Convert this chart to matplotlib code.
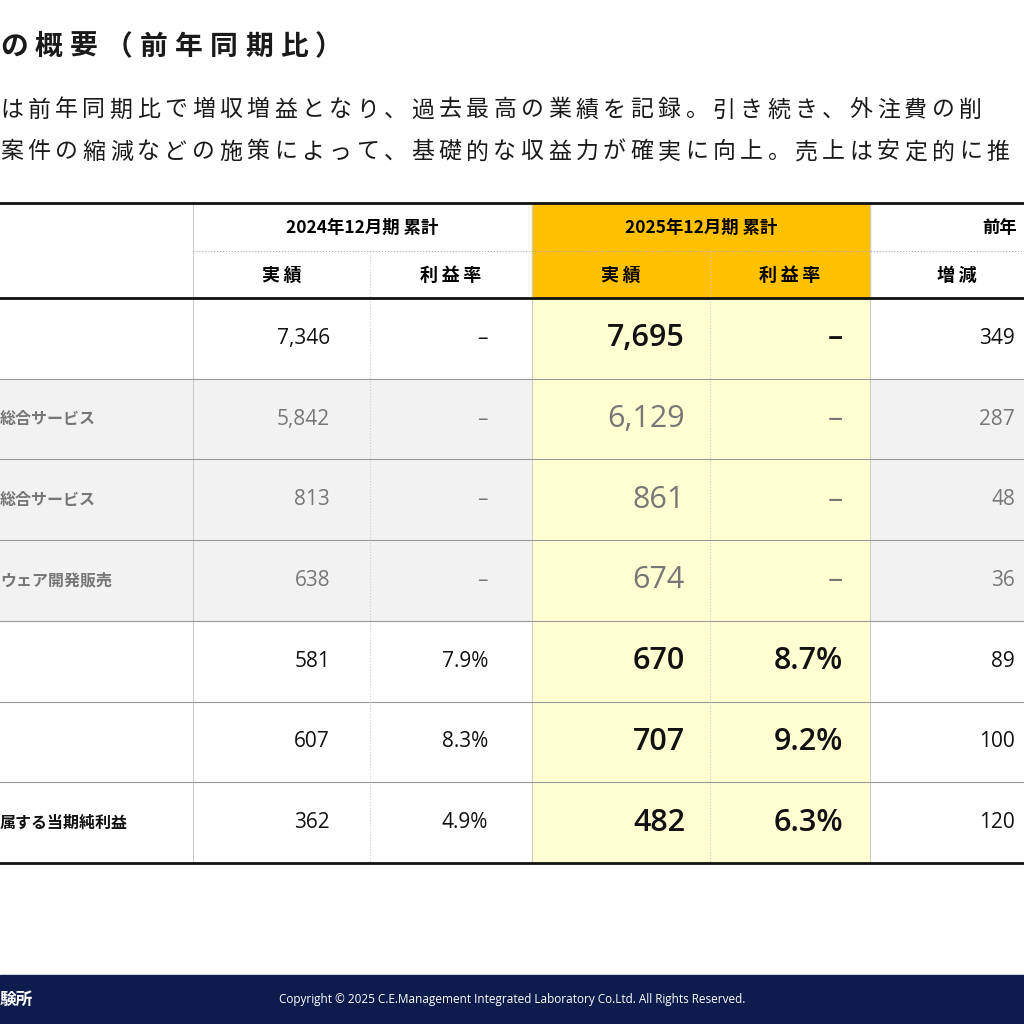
import matplotlib
matplotlib.use("Agg")
import matplotlib.pyplot as plt
from matplotlib.patches import Rectangle

plt.rcParams["font.family"] = ["Noto Sans CJK JP", "DejaVu Sans"]
NUM_FONT = ["Open Sans", "DejaVu Sans"]

# --- data -----------------------------------------------------------------
title = "の概要（前年同期比）"
lead_lines = [
    "は前年同期比で増収増益となり、過去最高の業績を記録。引き続き、外注費の削",
    "案件の縮減などの施策によって、基礎的な収益力が確実に向上。売上は安定的に推",
]
row_labels = ["", "総合サービス", "総合サービス", "ウェア開発販売", "", "", "属する当期純利益"]
segment_rows = [1, 2, 3]
prev_actual = ["7,346", "5,842", "813", "638", "581", "607", "362"]
prev_margin = ["–", "–", "–", "–", "7.9%", "8.3%", "4.9%"]
cur_actual = ["7,695", "6,129", "861", "674", "670", "707", "482"]
cur_margin = ["–", "–", "–", "–", "8.7%", "9.2%", "6.3%"]
diff = ["349", "287", "48", "36", "89", "100", "120"]
group_headers = ["2024年12月期 累計", "2025年12月期 累計", "前年"]
sub_headers = ["実績", "利益率", "実績", "利益率", "増減"]
footer_left = "験所"
copyright_text = "Copyright © 2025 C.E.Management Integrated Laboratory Co.Ltd. All Rights Reserved."

# --- layout (pixel space) -------------------------------------------------
col_x = [193, 370, 532, 710, 870, 1024]
row_top = 298
row_h = 80.7
table_top = 203
hdr_mid = 251

fig = plt.figure(figsize=(10.24, 10.24), dpi=100)
ax = fig.add_axes([0, 0, 1, 1])
ax.set_xlim(0, 1024)
ax.set_ylim(1024, 0)
ax.axis("off")

# title with letter spacing
for i, ch in enumerate(title):
    ax.text(i * 35, 47, ch, fontsize=20, fontweight="bold", va="center", color="#1a1a1a")
for i, line in enumerate(lead_lines):
    for j, ch in enumerate(line):
        ax.text(j * 27.4, 110 + i * 42, ch, fontsize=16.5, va="center", color="#1a1a1a")

n = len(row_labels)
bottom = row_top + n * row_h

# backgrounds
for r in segment_rows:
    ax.add_patch(Rectangle((0, row_top + r * row_h), 1024, row_h, color="#F2F2F2", zorder=0))
ax.add_patch(Rectangle((col_x[2], row_top), col_x[4] - col_x[2], bottom - row_top,
                       color="#FFFFD2", zorder=1))
ax.add_patch(Rectangle((col_x[2], table_top), col_x[4] - col_x[2], row_top - table_top,
                       color="#FFC000", zorder=1))

# lines
ax.plot([0, 1024], [table_top, table_top], color="#111", lw=2, zorder=3)
ax.plot([0, 1024], [row_top, row_top], color="#111", lw=2, zorder=3)
ax.plot([0, 1024], [bottom, bottom], color="#111", lw=2, zorder=3)
ax.plot([col_x[0], 1024], [hdr_mid, hdr_mid], color="#aaa", lw=0.8, ls=":", zorder=3)
for r in range(1, n):
    y = row_top + r * row_h
    ax.plot([0, 1024], [y, y], color="#999", lw=0.8, zorder=3)
for i, x in enumerate(col_x[:-1]):
    ls = ":" if i in (1, 3) else "-"
    y0 = hdr_mid if i in (1, 3) else table_top
    ax.plot([x, x], [y0, bottom], color="#ccc", lw=0.8, ls=ls, zorder=2)

# headers
for k, h in enumerate(group_headers):
    cx = (col_x[2 * k] + col_x[2 * k + 2]) / 2 if k < 2 else 1000
    ax.text(cx, 228, h, fontsize=12.5, fontweight="bold", ha="center", va="center", zorder=4)
for k, h in enumerate(sub_headers):
    cx = (col_x[k] + col_x[k + 1]) / 2 if k < 4 else 957
    ax.text(cx, 275, "\u2009".join(h), fontsize=13, fontweight="bold", ha="center",
            va="center", zorder=4)

# body
for r in range(n):
    y = row_top + (r + 0.5) * row_h
    seg = r in segment_rows
    c = "#777" if seg else "#111"
    ax.text(0, y, row_labels[r], fontsize=11.5, fontweight="bold", color=c, va="center", zorder=4)
    for x, v in ((330, prev_actual[r]), (488, prev_margin[r]), (1015, diff[r])):
        ax.text(x, y, v, fontsize=15, color=c, ha="right", va="center",
                family=NUM_FONT, fontweight="medium", zorder=4)
    for x, v in ((685, cur_actual[r]), (843, cur_margin[r])):
        ax.text(x, y, v, fontsize=22, color=c, ha="right", va="center",
                family=NUM_FONT, fontweight="normal" if seg else "semibold", zorder=4)

# footer
ax.add_patch(Rectangle((0, 975), 1024, 49, color="#0E1B4D", zorder=0))
ax.text(0, 1000, footer_left, fontsize=12, fontweight="bold", color="white", va="center")
ax.text(512, 1000, copyright_text, fontsize=8.5, color="white", ha="center", va="center",
        family=NUM_FONT)

fig.savefig("out.png", dpi=100)
